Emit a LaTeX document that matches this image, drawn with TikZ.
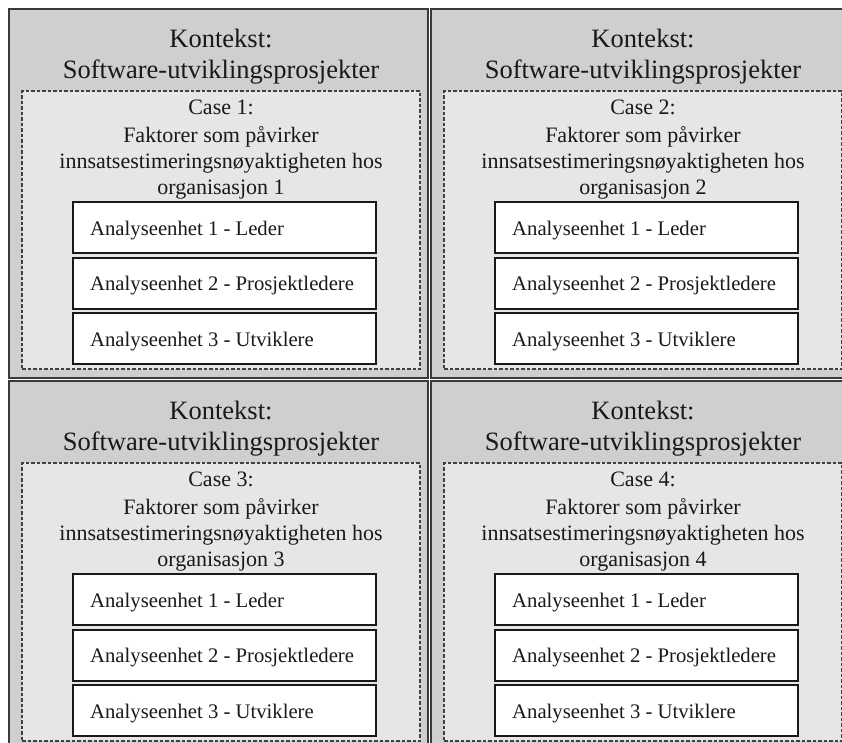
\documentclass[tikz,border=0pt]{standalone}
\usepackage{fontspec}
\setmainfont{Liberation Serif}
\definecolor{ctxfill}{HTML}{D0CECE}
\definecolor{casefill}{HTML}{E7E6E6}
\definecolor{ctxline}{HTML}{3A3A3A}
\tikzset{
  ctxbox/.style={draw=ctxline, line width=2pt, fill=ctxfill, rectangle, anchor=north west,
    inner sep=0pt, outer sep=0pt, minimum width=419pt, minimum height=369pt},
  casebox/.style={draw=black!75, line width=1.2pt, dash pattern=on 3.5pt off 2pt, fill=casefill,
    rectangle, anchor=north west, inner sep=0pt, outer sep=0pt, minimum width=398pt, minimum height=278pt},
  unitbox/.style={draw=black!90, line width=1.2pt, fill=white, rectangle, anchor=north west,
    inner sep=0pt, outer sep=0pt, minimum width=303pt, minimum height=51pt},
  titletxt/.style={font=\fontsize{26.5}{32}\selectfont, anchor=base, inner sep=0pt, text=black!90},
  casetxt/.style={font=\fontsize{22}{26}\selectfont, anchor=base, inner sep=0pt, text=black!90},
  unittxt/.style={font=\fontsize{20.7}{24}\selectfont, anchor=base west, inner sep=0pt, text=black!90},
}
\newcommand\drawquad[3]{%
  \node[ctxbox] (ctx#1) at (#2,#3) {};
  \node[casebox] (case#1) at (#2+13,#3+82) {};
  \node[titletxt] (kt#1) at (#2+212,#3+38) {Kontekst:};
  \node[titletxt] (sw#1) at (#2+212,#3+69) {Software-utviklingsprosjekter};
  \node[casetxt] (ct#1) at (#2+212,#3+105) {Case #1:};
  \node[casetxt] (fa#1) at (#2+212,#3+133) {Faktorer som påvirker};
  \node[casetxt] (in#1) at (#2+212,#3+159) {innsatsestimeringsnøyaktigheten hos};
  \node[casetxt] (or#1) at (#2+212,#3+185) {organisasjon #1};
  \node[unitbox] (ua#1) at (#2+64,#3+193) {};
  \node[unitbox] (ub#1) at (#2+64,#3+249) {};
  \node[unitbox] (uc#1) at (#2+64,#3+304) {};
  \node[unittxt] (ta#1) at (#2+81,#3+226) {Analyseenhet 1 - Leder};
  \node[unittxt] (tb#1) at (#2+81,#3+281) {Analyseenhet 2 - Prosjektledere};
  \node[unittxt] (tc#1) at (#2+81,#3+337) {Analyseenhet 3 - Utviklere};
}
\begin{document}
\begin{tikzpicture}[x=1pt,y=-1pt]
  \useasboundingbox (0,0) rectangle (842,742);
  \fill[white] (0,0) rectangle (842,742);
  \clip (0,0) rectangle (842,742);
  \drawquad{1}{9}{9}
  \drawquad{2}{431}{9}
  \drawquad{3}{9}{381}
  \drawquad{4}{431}{381}
\end{tikzpicture}
\end{document}
